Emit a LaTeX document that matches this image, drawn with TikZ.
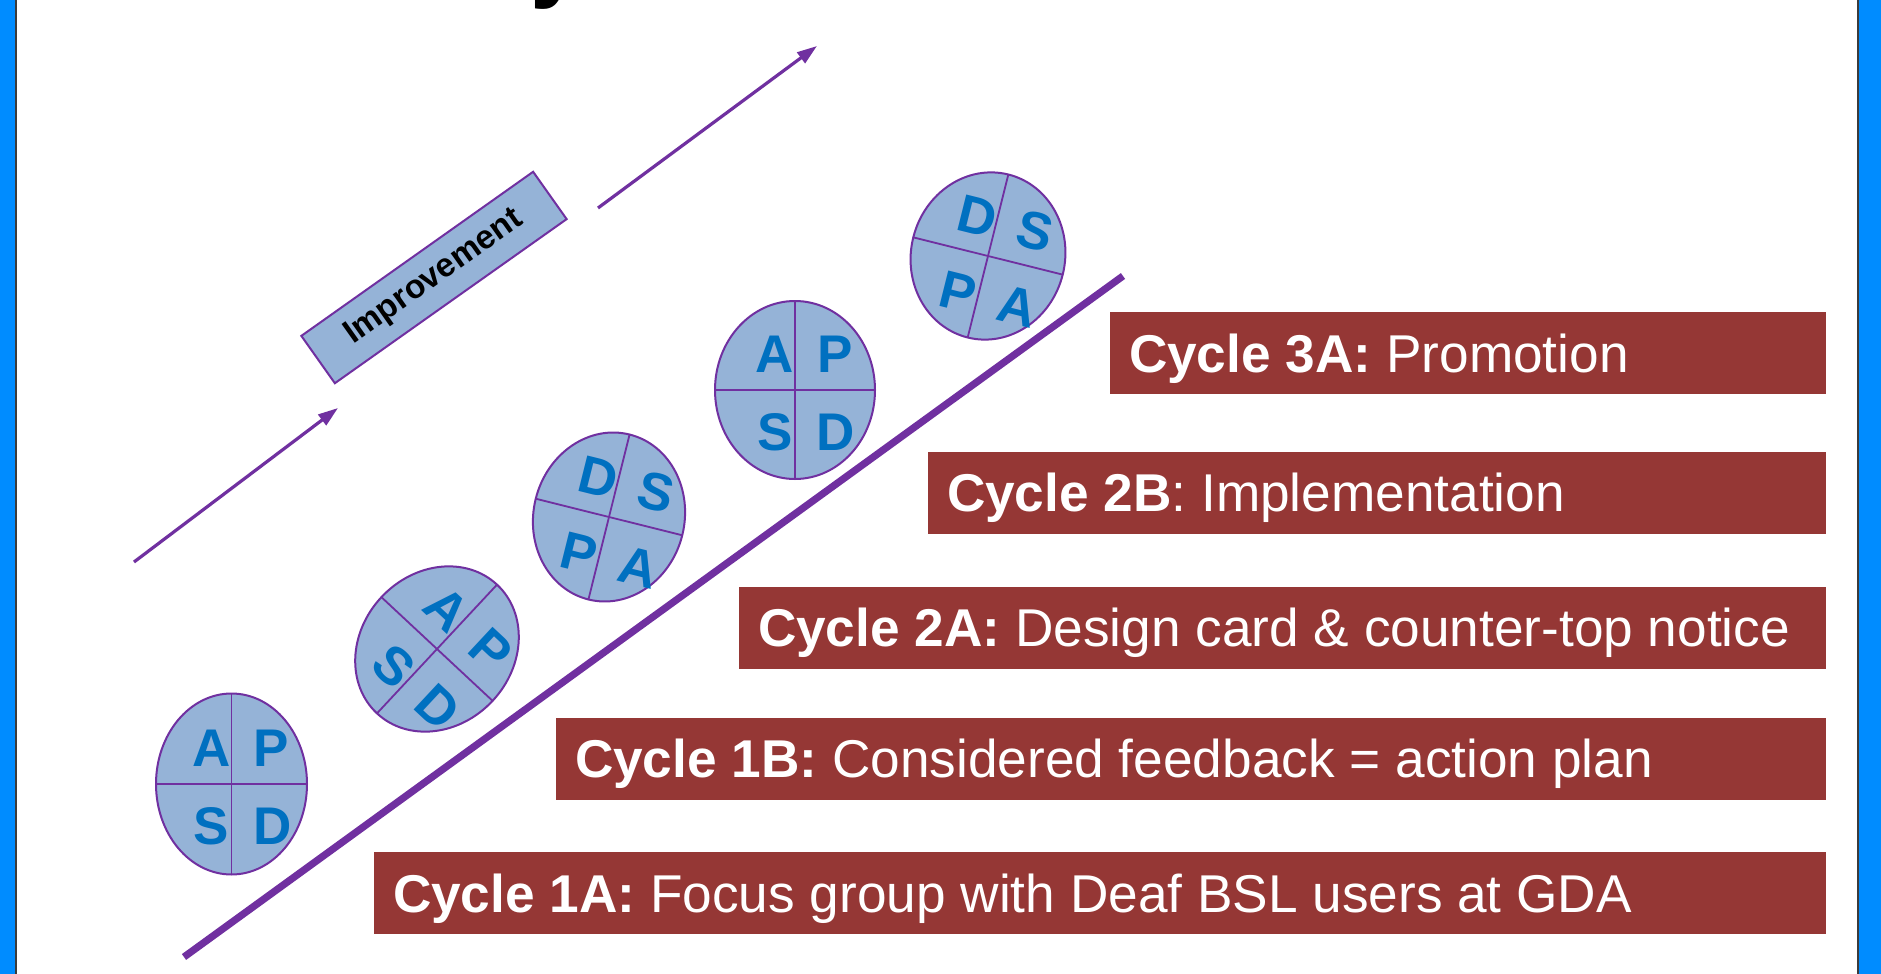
\documentclass[tikz,border=0pt]{standalone}
\usepackage{fontspec}
\setmainfont{Liberation Sans}
\usetikzlibrary{shapes.geometric,arrows.meta}
\definecolor{boxred}{RGB}{149,55,53}
\definecolor{pdsafill}{RGB}{149,179,215}
\definecolor{pdsapurple}{RGB}{112,48,160}
\definecolor{pdsablue}{RGB}{0,112,192}
\definecolor{sideblue}{RGB}{0,140,255}
\definecolor{sidedark}{RGB}{60,60,60}
\tikzset{
  pdsa/.style={ellipse, draw=pdsapurple, line width=1pt, fill=pdsafill, inner sep=0pt, outer sep=0pt},
  divline/.style={draw=pdsapurple, line width=0.9pt},
  ltr/.style={text=pdsablue, font=\fontsize{26.5}{30}\selectfont\bfseries, inner sep=0pt},
  cyclebox/.style={rectangle, fill=boxred, draw=none, minimum height=41pt, inner sep=0pt},
  cycletext/.style={text=white, font=\fontsize{26.6}{32}\selectfont, inner sep=0pt, anchor=base west},
  impbox/.style={rectangle, draw=pdsapurple, line width=1pt, fill=pdsafill, inner sep=0pt,
    font=\fontsize{16.7}{20}\selectfont\bfseries, text=black},
  uparrow/.style={draw=pdsapurple, line width=1.6pt, -{Triangle[length=10pt,width=6.5pt]}},
  bigline/.style={draw=pdsapurple, line width=3.6pt},
}
\newcommand\pdsacycle[9]{%
  \begin{scope}[shift={#2}, rotate=#5]
    \node[pdsa, minimum width=#3, minimum height=#4, rotate=#5] (#1) at (0,0) {};
    \draw[divline] (#1.north) -- (#1.south);
    \draw[divline] (#1.west) -- (#1.east);
    \node[ltr, rotate=#5] (#1-tl) at (-20,-36) {#6};
    \node[ltr, rotate=#5] (#1-tr) at (40,-36) {#7};
    \node[ltr, rotate=#5] (#1-bl) at (-20,42) {#8};
    \node[ltr, rotate=#5] (#1-br) at (41,42) {#9};
  \end{scope}}
\begin{document}
\begin{tikzpicture}[x=0.5pt, y=-0.5pt]
  \useasboundingbox (0,0) rectangle (1881,974);
  \fill[white] (0,0) rectangle (1881,974);
  % side bars
  \fill[sideblue] (0,0) rectangle (15,974);
  \fill[sidedark] (15,0) rectangle (16.5,974);
  \fill[sidedark] (1857,0) rectangle (1859,974);
  \fill[sideblue] (1859,0) rectangle (1881,974);
  % title fragment
  \begin{scope}
    \clip (0,0) rectangle (1881,974);
    \node[anchor=south west, inner sep=0pt, font=\fontsize{48}{54}\selectfont\bfseries] (ttl) at (530,10) {y};
  \end{scope}
  % big diagonal line
  \coordinate (bl0) at (184,957);
  \coordinate (bl1) at (1123,276);
  \draw[bigline] (bl0) -- (bl1);
  % improvement arrows
  \coordinate (a1s) at (134,562);
  \coordinate (a1e) at (338,408);
  \coordinate (a2s) at (598,208);
  \coordinate (a2e) at (817,46);
  \draw[uparrow] (a1s) -- (a1e);
  \draw[uparrow] (a2s) -- (a2e);
  \node[impbox, rotate=35.3, minimum width=142pt, minimum height=29pt] (imp) at (434,277.5) {Improvement};
  % PDSA ellipses
  \pdsacycle{e1}{(231.5,784)}{75.5pt}{90.5pt}{0}{A}{P}{S}{D}
  \pdsacycle{e2}{(437,649)}{76pt}{88pt}{-43}{A}{P}{S}{D}
  \pdsacycle{e3}{(609,517)}{75.5pt}{85pt}{-14}{D}{S}{P}{A}
  \pdsacycle{e4}{(795,390)}{80pt}{89pt}{0}{A}{P}{S}{D}
  \pdsacycle{e5}{(988,256)}{77pt}{84pt}{-14}{D}{S}{P}{A}
  % cycle boxes
  \node[cyclebox, minimum width=358pt] (b3a) at (1468,353) {};
  \node[cyclebox, minimum width=449pt] (b2b) at (1377,492.5) {};
  \node[cyclebox, minimum width=543.5pt] (b2a) at (1282.5,627.5) {};
  \node[cyclebox, minimum width=635pt] (b1b) at (1191,758.5) {};
  \node[cyclebox, minimum width=726pt] (b1a) at (1100,893) {};
  \node[cycletext] (t3a) at ([xshift=9.5pt, yshift=-9.5pt]b3a.west) {\textbf{Cycle 3A:} Promotion};
  \node[cycletext] (t2b) at ([xshift=9.5pt, yshift=-9.5pt]b2b.west) {\textbf{Cycle 2B}: Implementation};
  \node[cycletext] (t2a) at ([xshift=9.5pt, yshift=-9.5pt]b2a.west) {\textbf{Cycle 2A:} Design card \& counter-top notice};
  \node[cycletext] (t1b) at ([xshift=9.5pt, yshift=-9.5pt]b1b.west) {\textbf{Cycle 1B:} Considered feedback = action plan};
  \node[cycletext] (t1a) at ([xshift=9.5pt, yshift=-9.5pt]b1a.west) {\textbf{Cycle 1A:} Focus group with Deaf BSL users at GDA};
\end{tikzpicture}
\end{document}
